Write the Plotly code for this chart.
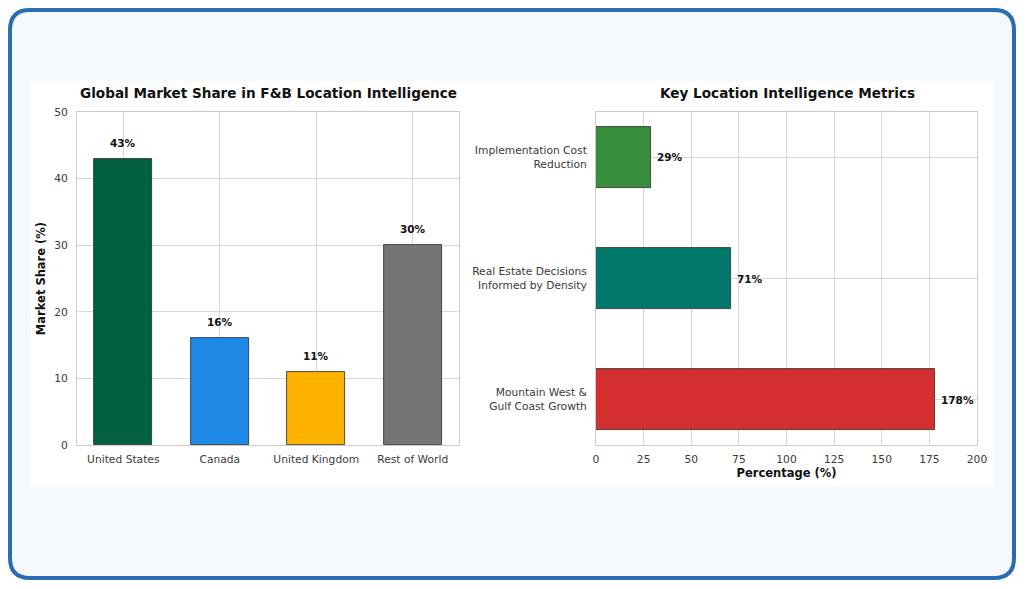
import plotly.graph_objects as go
from plotly.subplots import make_subplots

# left chart data
regions = ["United States", "Canada", "United Kingdom", "Rest of World"]
market_share = [43, 16, 11, 30]
region_colors = ["#03613f", "#1e88e5", "#ffb300", "#757575"]

# right chart data
metrics = ["Implementation Cost<br>Reduction",
           "Real Estate Decisions<br>Informed by Density",
           "Mountain West &<br>Gulf Coast Growth"]
metric_values = [29, 71, 178]
metric_colors = ["#388e3c", "#00796b", "#d32f2f"]

W, H = 1026, 589
FONT = "DejaVu Sans"

fig = make_subplots(rows=1, cols=2)

fig.add_trace(go.Bar(x=regions, y=market_share, width=0.6,
                     marker=dict(color=region_colors, line=dict(color="#2b2b2b", width=0.8)),
                     showlegend=False, hoverinfo="x+y"), row=1, col=1)

fig.add_trace(go.Bar(x=metric_values, y=metrics, orientation="h", width=0.5,
                     marker=dict(color=metric_colors, line=dict(color="#2b2b2b", width=0.8)),
                     showlegend=False, hoverinfo="x+y"), row=1, col=2)

# value labels
for r, v in zip(regions, market_share):
    fig.add_annotation(x=r, y=v, xref="x", yref="y", text="<b>%d%%</b>" % v,
                       showarrow=False, xanchor="center", yanchor="bottom", yshift=8,
                       font=dict(size=10.5, color="#111", family=FONT))
for m, v in zip(metrics, metric_values):
    fig.add_annotation(x=v, y=m, xref="x2", yref="y2", text="<b>%d%%</b>" % v,
                       showarrow=False, xanchor="left", yanchor="middle", xshift=4,
                       font=dict(size=10.5, color="#111", family=FONT))


def px_x(p):
    return p / W


def px_y(p):
    return 1 - p / H


axis_common = dict(showline=True, linecolor="#cccccc", linewidth=1, mirror=True,
                   showgrid=True, gridcolor="#d9d9d9", gridwidth=1, ticks="",
                   zeroline=False, automargin=False,
                   tickfont=dict(size=10.7, color="#3a3a3a", family=FONT))
title_font = dict(size=11.5, color="#111", family=FONT)

fig.update_xaxes(domain=[px_x(77), px_x(459)], range=[-0.48, 3.48], ticklabelstandoff=4,
                 row=1, col=1, **axis_common)
fig.update_yaxes(domain=[px_y(445), px_y(112)], range=[0, 50], dtick=10, ticklabelstandoff=6,
                 title=dict(text="<b>Market Share (%)</b>", font=title_font, standoff=6),
                 row=1, col=1, **axis_common)
fig.update_xaxes(domain=[px_x(596), px_x(977)], range=[0, 200], dtick=25, ticklabelstandoff=4,
                 title=dict(text="<b>Percentage (%)</b>", font=title_font, standoff=4),
                 row=1, col=2, **axis_common)
fig.update_yaxes(domain=[px_y(445), px_y(112)], range=[2.375, -0.375], ticklabelstandoff=6,
                 row=1, col=2, **axis_common)

# subplot titles
fig.add_annotation(x=px_x(268), y=px_y(93), xref="paper", yref="paper",
                   xanchor="center", yanchor="middle",
                   text="<b>Global Market Share in F&B Location Intelligence</b>",
                   showarrow=False, font=dict(size=13.6, color="#111", family=FONT))
fig.add_annotation(x=px_x(787), y=px_y(93), xref="paper", yref="paper",
                   xanchor="center", yanchor="middle",
                   text="<b>Key Location Intelligence Metrics</b>",
                   showarrow=False, font=dict(size=13.6, color="#111", family=FONT))

# card background, rounded border and white panel
r = 20
x0, y0, x1, y1 = 10, 10, 1014, 578
pts = [("M", x0 + r, y0), ("L", x1 - r, y0), ("Q", x1, y0), ("", x1, y0 + r),
       ("L", x1, y1 - r), ("Q", x1, y1), ("", x1 - r, y1), ("L", x0 + r, y1),
       ("Q", x0, y1), ("", x0, y1 - r), ("L", x0, y0 + r), ("Q", x0, y0), ("", x0 + r, y0)]
path = " ".join("%s %.5f,%.5f" % (c, px_x(a), px_y(b)) if c else "%.5f,%.5f" % (px_x(a), px_y(b))
                for c, a, b in pts) + " Z"
fig.add_shape(type="path", xref="paper", yref="paper", layer="below", path=path,
              fillcolor="#f5f8fc", line=dict(color="#2a6db3", width=4))
fig.add_shape(type="rect", xref="paper", yref="paper", layer="below",
              x0=px_x(31), x1=px_x(993), y0=px_y(487), y1=px_y(81),
              fillcolor="white", line=dict(width=0))

fig.update_layout(width=W, height=H, margin=dict(l=0, r=0, t=0, b=0, pad=0, autoexpand=False),
                  paper_bgcolor="white", plot_bgcolor="rgba(0,0,0,0)",
                  font=dict(family=FONT), bargap=0)

fig.write_html("out.html", config={"displayModeBar": False},
               post_script="document.body.style.margin='0';document.body.style.overflow='hidden';")
